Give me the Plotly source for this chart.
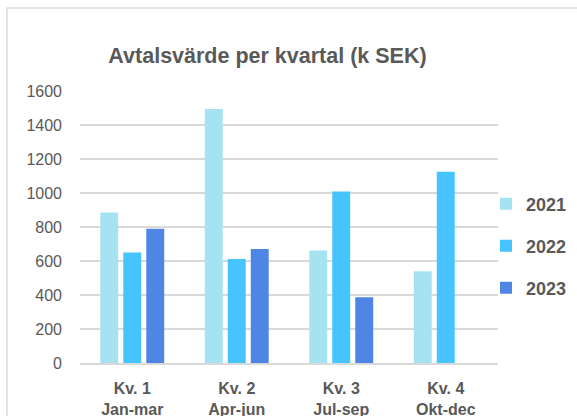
import plotly.graph_objects as go

categories = ["Kv. 1<br>Jan-mar", "Kv. 2<br>Apr-jun", "Kv. 3<br>Jul-sep", "Kv. 4<br>Okt-dec"]
series_names = ["2021", "2022", "2023"]
values_2021 = [886, 1494, 662, 540]
values_2022 = [650, 612, 1009, 1125]
values_2023 = [789, 670, 387, None]
colors = ["#a6e3f2", "#45c4ff", "#4f86e6"]

W, H = 577, 416
L, R, T, B = 80, 79, 91, 53.3
pw, ph = W - L - R, H - T - B

def px_x(x):
    return (x - L) / pw

def px_y(y):
    return (H - B - y) / ph

fig = go.Figure()
for i, (name, vals) in enumerate(zip(series_names, [values_2021, values_2022, values_2023])):
    fig.add_trace(go.Bar(
        x=categories, y=vals, name="<b>" + name + "</b>", legendgroup=name,
        marker=dict(color=colors[i], line=dict(width=0)),
    ))

text_color = "#595959"
fig.update_layout(
    width=W, height=H,
    margin=dict(l=L, r=R, t=T, b=B, autoexpand=False),
    paper_bgcolor="white", plot_bgcolor="white",
    barmode="group", bargap=0.34, bargroupgap=0.22,
    font=dict(family="Liberation Sans, Arial, sans-serif", color=text_color),
    title=dict(text="<b>Avtalsvärde per kvartal (k SEK)</b>",
               x=267.5 / W, xref="container", xanchor="center",
               y=1 - 55 / H, yref="container", yanchor="middle",
               font=dict(size=21.5, color=text_color)),
    yaxis=dict(range=[0, 1600], dtick=200, showgrid=True, gridcolor="#d9d9d9", gridwidth=1.5,
               zeroline=False, showline=False, ticks="", ticklabelstandoff=17,
               tickfont=dict(size=16, color=text_color), automargin=False),
    xaxis=dict(showline=True, linecolor="#d9d9d9", linewidth=1.5, ticks="",
               tickfont=dict(size=16, color=text_color), ticklabelstandoff=10, automargin=False),
    legend=dict(x=px_x(486), xanchor="left", y=px_y(246), yanchor="middle",
                traceorder="grouped", tracegroupgap=15.5,
                font=dict(size=18, color=text_color, family="Liberation Sans, Arial, sans-serif"),
                bgcolor="rgba(0,0,0,0)", borderwidth=0),
    showlegend=True,
)
fig.update_xaxes(tickvals=categories, ticktext=["<b>" + c.replace("<br>", "</b><br><b>") + "</b>" for c in categories])

fig.add_shape(type="rect", xref="paper", yref="paper",
              x0=px_x(7), x1=px_x(590), y0=px_y(430), y1=px_y(8),
              line=dict(color="#d9d9d9", width=1.5), fillcolor="rgba(0,0,0,0)", layer="below")

fig.write_html("out.html", config={"displayModeBar": False},
               post_script="document.body.style.margin='0px';document.body.style.overflow='hidden';")
